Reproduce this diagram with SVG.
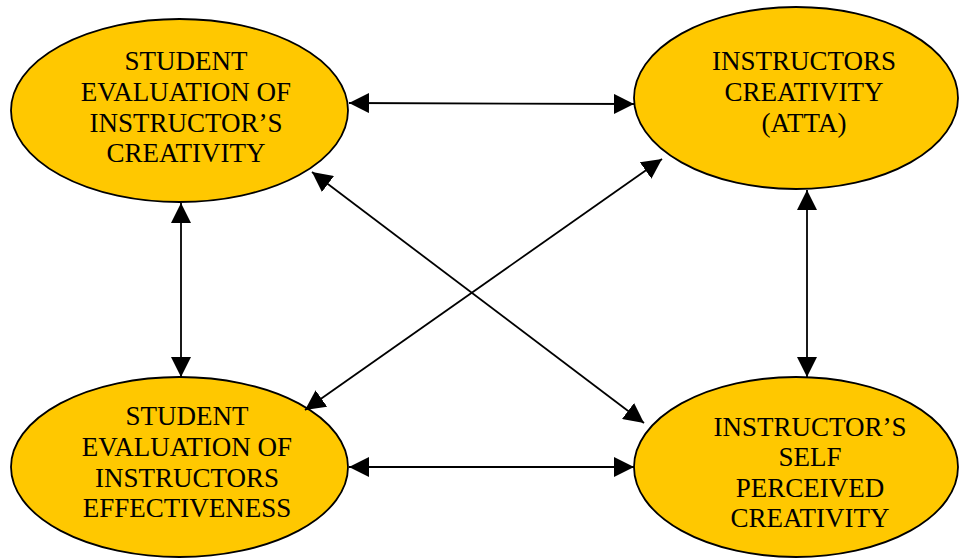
<svg xmlns="http://www.w3.org/2000/svg" width="961" height="558" viewBox="0 0 961 558">
<style>
.node ellipse{fill:#FFC800;stroke:#000;stroke-width:1.8}
.node text{font-family:"Liberation Serif","Times New Roman",serif;font-size:27px;fill:#000;text-anchor:middle}
.conn line{stroke:#000;stroke-width:1.8;marker-start:url(#ah);marker-end:url(#ah)}
</style>
<defs>
<marker id="ah" viewBox="0 0 20 20" refX="20" refY="10" markerWidth="20" markerHeight="20" markerUnits="userSpaceOnUse" orient="auto-start-reverse">
<path d="M0,0 L20,10 L0,20 z" fill="#000"/>
</marker>
</defs>
<rect width="961" height="558" fill="#fff"/>
<g id="n1" class="node">
<ellipse cx="179.5" cy="110.5" rx="168.5" ry="91.5"/>
<text x="186" y="70">STUDENT</text>
<text x="186" y="101">EVALUATION OF</text>
<text x="186" y="132">INSTRUCTOR’S</text>
<text x="186" y="162">CREATIVITY</text>
</g>
<g id="n2" class="node">
<ellipse cx="796" cy="98" rx="162" ry="91"/>
<text x="804" y="70">INSTRUCTORS</text>
<text x="804" y="101">CREATIVITY</text>
<text x="804" y="132">(ATTA)</text>
</g>
<g id="n3" class="node">
<ellipse cx="179.5" cy="467" rx="168.5" ry="90"/>
<text x="187" y="425">STUDENT</text>
<text x="187" y="456">EVALUATION OF</text>
<text x="187" y="487">INSTRUCTORS</text>
<text x="187" y="517">EFFECTIVENESS</text>
</g>
<g id="n4" class="node">
<ellipse cx="796" cy="467" rx="162" ry="90"/>
<text x="810" y="436">INSTRUCTOR’S</text>
<text x="810" y="466">SELF</text>
<text x="810" y="497">PERCEIVED</text>
<text x="810" y="527">CREATIVITY</text>
</g>
<g id="connectors" class="conn">
<line x1="349" y1="103" x2="634" y2="104"/>
<line x1="349" y1="467" x2="634" y2="467"/>
<line x1="181" y1="203" x2="181" y2="377"/>
<line x1="807" y1="190" x2="807" y2="377"/>
<line x1="312" y1="172" x2="644" y2="423"/>
<line x1="662" y1="159" x2="305" y2="410"/>
</g>
</svg>
